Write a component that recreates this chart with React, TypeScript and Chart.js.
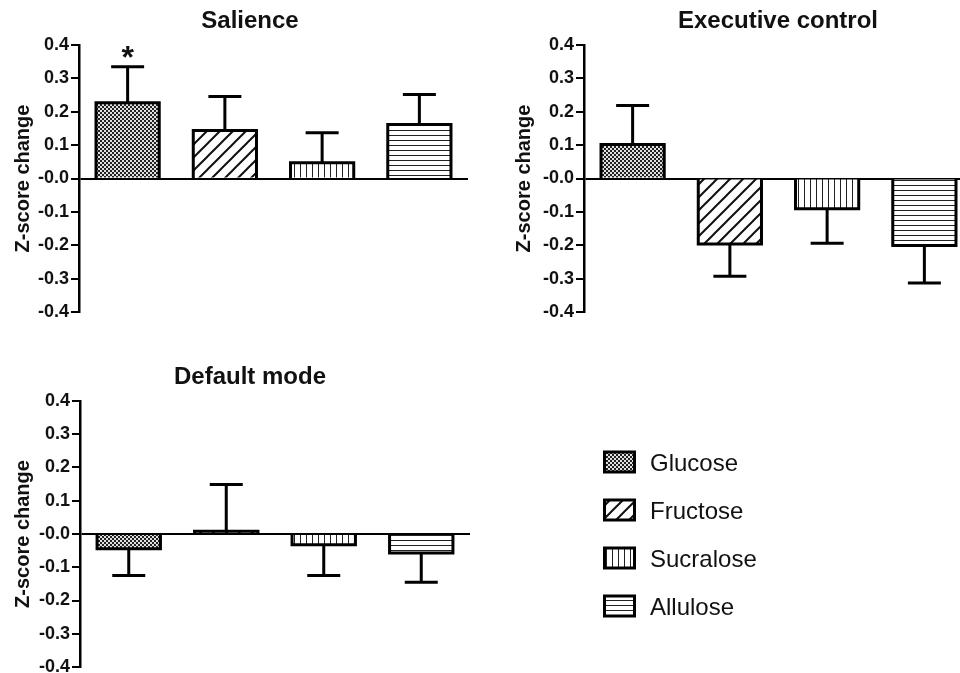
import React, { useEffect, useRef } from 'react';
import { Chart, registerables } from 'chart.js';

Chart.register(...registerables);

// ---------- data ----------
const categories = ['Glucose', 'Fructose', 'Sucralose', 'Allulose'];

const salienceMean = [0.227, 0.144, 0.047, 0.162];
const salienceErr = [0.108, 0.102, 0.09, 0.09];
const salienceMarks = ['*', '', '', ''];

const executiveMean = [0.102, -0.196, -0.091, -0.201];
const executiveErr = [0.117, 0.097, 0.103, 0.112];
const executiveMarks = ['', '', '', ''];

const defaultMean = [-0.044, 0.008, -0.032, -0.057];
const defaultErr = [0.081, 0.141, 0.093, 0.088];
const defaultMarks = ['', '', '', ''];

const yMin = -0.4;
const yMax = 0.4;
const yStep = 0.1;
const yTitle = 'Z-score change';

const FONT = "Arial, 'Liberation Sans', Helvetica, sans-serif";

// ---------- patterns ----------
function makePattern(kind: string, ctx: CanvasRenderingContext2D): CanvasPattern | string {
  const c = document.createElement('canvas');
  let w = 4, h = 4;
  if (kind === 'Glucose') { w = 4; h = 4; }
  if (kind === 'Fructose') { w = 13; h = 13; }
  if (kind === 'Sucralose') { w = 6; h = 1; }
  if (kind === 'Allulose') { w = 1; h = 5; }
  c.width = w; c.height = h;
  const g = c.getContext('2d')!;
  g.fillStyle = '#ffffff';
  g.fillRect(0, 0, w, h);
  if (kind === 'Glucose') {
    g.fillStyle = '#e0e0e0';
    g.fillRect(0, 0, w, h);
    g.fillStyle = '#222';
    g.fillRect(0, 0, 2, 2);
    g.fillRect(2, 2, 2, 2);
  } else if (kind === 'Fructose') {
    g.strokeStyle = '#111';
    g.lineWidth = 2;
    g.beginPath();
    g.moveTo(-1, h + 1); g.lineTo(w + 1, -1);
    g.moveTo(-2, 2); g.lineTo(2, -2);
    g.moveTo(w - 2, h + 2); g.lineTo(w + 2, h - 2);
    g.stroke();
  } else if (kind === 'Sucralose') {
    g.fillStyle = '#222';
    g.fillRect(0, 0, 1, h);
  } else if (kind === 'Allulose') {
    g.fillStyle = '#222';
    g.fillRect(0, 0, w, 1);
  }
  return ctx.createPattern(c, 'repeat') || '#999';
}

type Box = { left: number; top: number; width: number; height: number };
type Area = { left: number; right: number; top: number; bottom: number };

type PanelProps = {
  title: string;
  means: number[];
  errs: number[];
  marks: string[];
  box: Box;
  area: Area;
  yTitleX: number;
  titleX: number;
  titleY: number;
  legend?: { boxX: number; textX: number; firstY: number; dy: number };
};

function Panel(props: PanelProps) {
  const ref = useRef<HTMLCanvasElement | null>(null);
  useEffect(() => {
    const canvas = ref.current!;
    const ctx = canvas.getContext('2d')!;
    const { box, area, means, errs, marks, title, yTitleX, titleX, titleY, legend } = props;
    const patterns = categories.map((k) => makePattern(k, ctx));
    const axisWidth = area.left - box.left;
    const yTitleFont = 20;
    const yTitlePad = yTitleX - box.left - (yTitleFont * 1.2) / 2;

    const extras = {
      id: 'panelExtras',
      afterDatasetsDraw(chart: any) {
        const c = chart.ctx as CanvasRenderingContext2D;
        const ys = chart.scales.y;
        const meta = chart.getDatasetMeta(0);
        c.save();
        c.strokeStyle = '#000';
        c.lineWidth = 3;
        c.lineCap = 'butt';
        c.lineJoin = 'miter';
        means.forEach((m, i) => {
          const bar = meta.data[i];
          const cx = bar.x;
          const half = bar.width / 2;
          const dir = m >= 0 ? 1 : -1;
          const y0 = ys.getPixelForValue(m);
          const yb = ys.getPixelForValue(0);
          // bar outline, centred on the edges (base edge lies on the zero line)
          c.beginPath();
          c.moveTo(cx - half, yb);
          c.lineTo(cx - half, y0);
          c.lineTo(cx + half, y0);
          c.lineTo(cx + half, yb);
          c.stroke();
          // error bar
          const y1 = ys.getPixelForValue(m + dir * errs[i]);
          c.beginPath();
          c.moveTo(cx, y0);
          c.lineTo(cx, y1);
          c.moveTo(cx - 16.5, y1);
          c.lineTo(cx + 16.5, y1);
          c.stroke();
          if (marks[i]) {
            c.fillStyle = '#111';
            c.font = `bold 32px ${FONT}`;
            c.textAlign = 'center';
            c.textBaseline = 'alphabetic';
            c.fillText(marks[i], cx, dir > 0 ? y1 + 1 : y1 + 30);
          }
        });
        c.restore();
      },
      afterDraw(chart: any) {
        const c = chart.ctx as CanvasRenderingContext2D;
        c.save();
        c.fillStyle = '#111';
        c.font = `bold 24px ${FONT}`;
        c.textAlign = 'center';
        c.textBaseline = 'middle';
        c.fillText(title, titleX - box.left, titleY - box.top);
        if (legend) {
          categories.forEach((name, i) => {
            const cy = legend.firstY + i * legend.dy - box.top;
            const bx = legend.boxX - box.left;
            c.beginPath();
            c.rect(bx, cy - 10, 30, 20);
            c.fillStyle = patterns[i] as any;
            c.fill();
            c.lineWidth = 3;
            c.strokeStyle = '#000';
            c.stroke();
            c.fillStyle = '#111';
            c.font = `24px ${FONT}`;
            c.textAlign = 'left';
            c.textBaseline = 'alphabetic';
            c.fillText(name, legend.textX - box.left, cy + 8.6);
          });
        }
        c.restore();
      },
    };

    const chart = new Chart(canvas, {
      type: 'bar',
      data: {
        labels: categories,
        datasets: [
          {
            label: title,
            data: means,
            backgroundColor: patterns as any,
            borderColor: '#000',
            borderWidth: 0,
            barPercentage: 0.65,
            categoryPercentage: 1,
          },
        ],
      },
      options: {
        responsive: false,
        animation: false,
        devicePixelRatio: 1,
        layout: {
          padding: {
            left: 0,
            top: area.top - box.top,
            bottom: box.top + box.height - area.bottom,
            right: box.left + box.width - area.right,
          },
        },
        plugins: {
          legend: { display: false },
          title: { display: false },
          tooltip: { enabled: false },
        },
        scales: {
          x: {
            type: 'category',
            display: false,
          },
          y: {
            min: yMin,
            max: yMax,
            afterFit: (scale: any) => {
              scale.width = axisWidth;
            },
            ticks: {
              stepSize: yStep,
              padding: 2,
              color: '#111',
              font: { family: FONT, size: 18, weight: 'bold' },
              callback: (v: any) => {
                const n = Number(v);
                return Math.abs(n) < 1e-9 ? '-0.0' : n.toFixed(1);
              },
            },
            grid: {
              drawTicks: true,
              tickLength: 8,
              tickWidth: 2,
              tickColor: '#000',
              lineWidth: 2,
              color: (c: any) =>
                c.tick && Math.abs(c.tick.value) < 1e-9 ? '#000' : 'rgba(0,0,0,0)',
            },
            border: { display: true, color: '#000', width: 2.5 },
            title: {
              display: true,
              text: yTitle,
              color: '#111',
              font: { family: FONT, size: yTitleFont, weight: 'bold' },
              padding: { top: yTitlePad, bottom: 0 },
            },
          },
        },
      },
      plugins: [extras],
    } as any);
    return () => chart.destroy();
  }, []);
  const { box } = props;
  return (
    <canvas
      ref={ref}
      width={box.width}
      height={box.height}
      style={{
        position: 'absolute',
        left: box.left,
        top: box.top,
        width: box.width,
        height: box.height,
      }}
    />
  );
}

export default function App() {
  return (
    <div
      style={{
        position: 'fixed',
        left: 0,
        top: 0,
        width: 960,
        height: 673,
        overflow: 'hidden',
        background: '#ffffff',
      }}
    >
      <Panel
        title="Salience"
        means={salienceMean}
        errs={salienceErr}
        marks={salienceMarks}
        box={{ left: 0, top: 0, width: 480, height: 330 }}
        area={{ left: 79, right: 468, top: 45, bottom: 312 }}
        yTitleX={23}
        titleX={250}
        titleY={21}
      />
      <Panel
        title="Executive control"
        means={executiveMean}
        errs={executiveErr}
        marks={executiveMarks}
        box={{ left: 480, top: 0, width: 520, height: 330 }}
        area={{ left: 584, right: 973, top: 45, bottom: 312 }}
        yTitleX={524}
        titleX={778}
        titleY={21}
      />
      <Panel
        title="Default mode"
        means={defaultMean}
        errs={defaultErr}
        marks={defaultMarks}
        box={{ left: 0, top: 330, width: 960, height: 360 }}
        area={{ left: 80, right: 470, top: 401, bottom: 667 }}
        yTitleX={23}
        titleX={250}
        titleY={377}
        legend={{ boxX: 604.5, textX: 650, firstY: 462, dy: 48 }}
      />
    </div>
  );
}
